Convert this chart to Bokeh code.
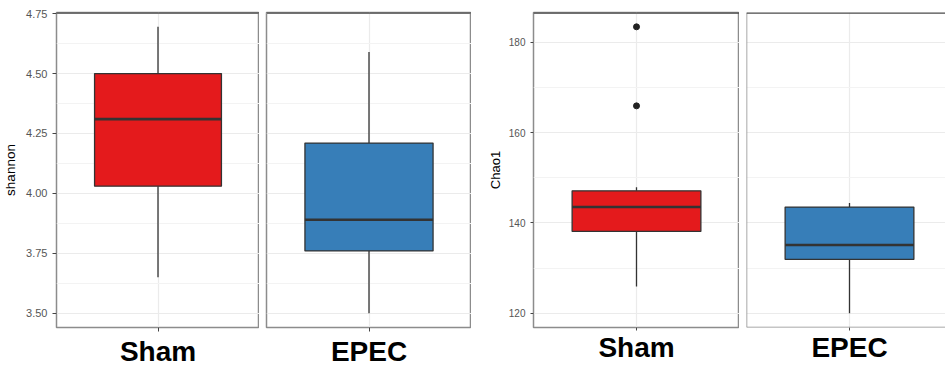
from bokeh.plotting import figure
from bokeh.layouts import row
from bokeh.models import Range1d, FixedTicker, Span, ColumnDataSource, NumeralTickFormatter
from bokeh.embed import file_html
from bokeh.resources import INLINE

# ---------------- data ----------------
categories = ["Sham", "EPEC"]
colors = ["#E41A1C", "#377EB8"]

shannon_lower = [3.65, 3.50]
shannon_q1 = [4.03, 3.76]
shannon_median = [4.31, 3.89]
shannon_q3 = [4.50, 4.21]
shannon_upper = [4.695, 4.59]
shannon_outliers = [[], []]
shannon_ticks = [3.50, 3.75, 4.00, 4.25, 4.50, 4.75]

chao1_lower = [125.9, 120.0]
chao1_q1 = [138.1, 131.9]
chao1_median = [143.5, 135.1]
chao1_q3 = [147.1, 143.5]
chao1_upper = [147.9, 144.4]
chao1_outliers = [[165.9, 183.4], []]
chao1_ticks = [120, 140, 160, 180]

FONT = "Liberation Sans"


def yrange(lower, upper, outliers):
    vals = list(lower) + list(upper) + [v for o in outliers for v in o]
    lo, hi = min(vals), max(vals)
    pad = 0.05 * (hi - lo)
    return lo - pad, hi + pad


def facet(i, metric, show_y, ylabel, ticks, fmt, yr, border_left, frame_w, border_top,
          frame_h, border_bottom, x_end, tick_font, title_font, tick_out, xstand,
          ystand, title_stand, right_border=True):
    lower, q1, med, q3, upper, outl = metric
    p = figure(width=border_left + frame_w, height=border_top + frame_h + border_bottom,
               x_range=Range1d(0.4, x_end), y_range=Range1d(*yr),
               output_backend="svg", toolbar_location=None,
               y_axis_location="left" if show_y else None,
               min_border_left=border_left, min_border_right=0,
               min_border_top=border_top, min_border_bottom=border_bottom,
               background_fill_color="white", border_fill_color="white")
    if right_border:
        p.outline_line_color = "#8c8c8c"
        p.outline_line_width = 1.5
    else:
        p.outline_line_color = None
        for loc, dim in [(0.4, "height"), (yr[0], "width")]:
            p.add_layout(Span(location=loc, dimension=dim, line_color="#8c8c8c",
                              line_width=1.5))
    p.add_layout(Span(location=yr[1], dimension="width", line_color="#4a4a4a",
                      line_width=2.5))

    step = ticks[1] - ticks[0]
    minor = [ticks[0] - step / 2] + [t + step / 2 for t in ticks]
    yt = FixedTicker(ticks=ticks, minor_ticks=minor)
    xt = FixedTicker(ticks=[1])

    p.ygrid.ticker = yt
    p.ygrid.grid_line_color = "#ebebeb"
    p.ygrid.grid_line_width = 1.2
    p.ygrid.minor_grid_line_color = "#f3f3f3"
    p.ygrid.minor_grid_line_width = 1
    p.xgrid.ticker = xt
    p.xgrid.grid_line_color = "#ebebeb"
    p.xgrid.grid_line_width = 1.2

    xa = p.xaxis[0]
    xa.ticker = xt
    xa.major_label_overrides = {1: categories[i]}
    xa.axis_line_color = None
    xa.major_tick_line_color = "#444444"
    xa.major_tick_out = tick_out
    xa.major_tick_in = 0
    xa.minor_tick_line_color = None
    xa.major_label_text_font = FONT
    xa.major_label_text_font_style = "bold"
    xa.major_label_text_font_size = "28px"
    xa.major_label_text_color = "black"
    xa.major_label_standoff = xstand

    if show_y:
        ya = p.yaxis[0]
        ya.ticker = yt
        ya.formatter = NumeralTickFormatter(format=fmt)
        ya.axis_line_color = None
        ya.major_tick_line_color = "#444444"
        ya.major_tick_out = tick_out
        ya.major_tick_in = 0
        ya.minor_tick_line_color = None
        ya.major_label_text_font = FONT
        ya.major_label_text_font_size = tick_font
        ya.major_label_text_color = "#555555"
        ya.major_label_standoff = ystand
        ya.axis_label = ylabel
        ya.axis_label_text_font = FONT
        ya.axis_label_text_font_style = "normal"
        ya.axis_label_text_font_size = title_font
        ya.axis_label_text_color = "black"
        ya.axis_label_standoff = title_stand

    src = ColumnDataSource(dict(x=[1], lower=[lower[i]], q1=[q1[i]], med=[med[i]],
                                q3=[q3[i]], upper=[upper[i]],
                                x0=[1 - 0.375], x1=[1 + 0.375]))
    p.segment(x0="x", y0="q3", x1="x", y1="upper", source=src, line_color="#333333",
              line_width=1.3)
    p.segment(x0="x", y0="lower", x1="x", y1="q1", source=src, line_color="#333333",
              line_width=1.3)
    p.vbar(x="x", width=0.75, bottom="q1", top="q3", source=src, fill_color=colors[i],
           line_color="#333333", line_width=1.3)
    p.segment(x0="x0", y0="med", x1="x1", y1="med", source=src, line_color="#333333",
              line_width=2.6)
    if outl[i]:
        p.scatter(x=[1] * len(outl[i]), y=outl[i], size=6, color="#222222")
    return p


sh = (shannon_lower, shannon_q1, shannon_median, shannon_q3, shannon_upper, shannon_outliers)
ch = (chao1_lower, chao1_q1, chao1_median, chao1_q3, chao1_upper, chao1_outliers)
yr_s = yrange(shannon_lower, shannon_upper, shannon_outliers)
yr_c = yrange(chao1_lower, chao1_upper, chao1_outliers)

pA = facet(0, sh, True, "shannon", shannon_ticks, "0.00", yr_s, 55, 204, 12, 315, 42, 1.6,
           "11px", "13.5px", 4, 4, 5, 5)
pB = facet(1, sh, False, "", shannon_ticks, "0.00", yr_s, 7, 205, 12, 315, 42, 1.6,
           "11px", "13.5px", 4, 4, 5, 5)
pC = facet(0, ch, True, "Chao1", chao1_ticks, "0", yr_c, 62, 206, 8, 325, 36, 1.6,
           "10px", "13px", 3, 1, 4, 3)
pD = facet(1, ch, False, "", chao1_ticks, "0", yr_c, 7, 199, 8, 325, 36,
           0.4 + 1.2 * 199 / 206, "10px", "13px", 3, 1, 4, 3, right_border=False)

layout = row(pA, pB, pC, pD, spacing=0)

open("out.html", "w").write(file_html(layout, INLINE))
